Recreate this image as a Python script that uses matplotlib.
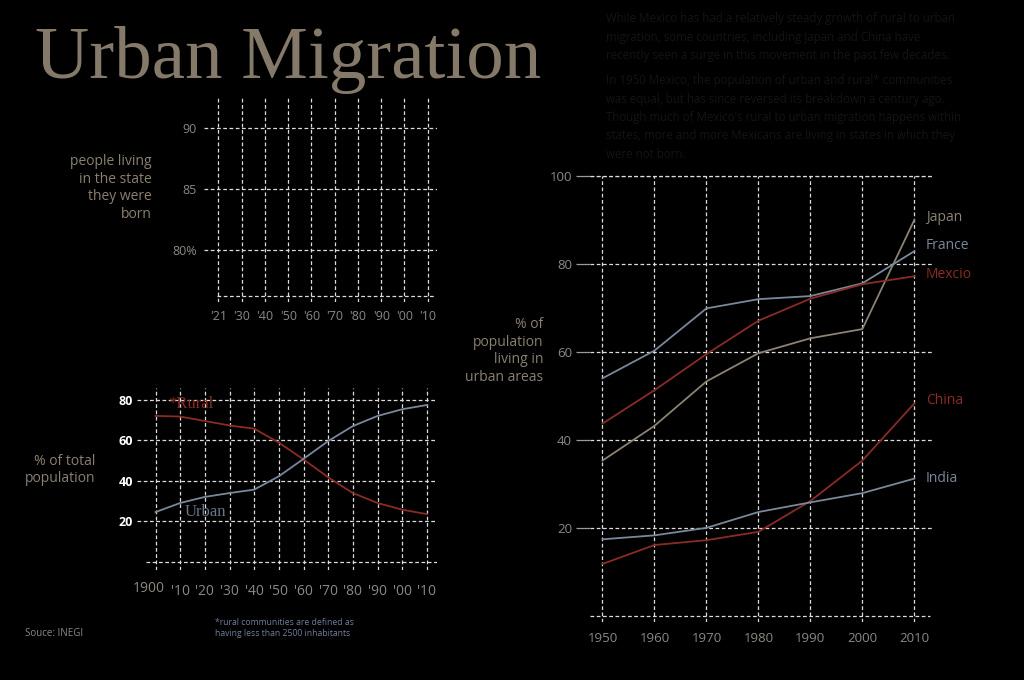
import matplotlib.pyplot as plt
import numpy as np

W, H = 1024, 680

# right chart: % urban population by country
decades = [1950, 1960, 1970, 1980, 1990, 2000, 2010]
japan = [35.3, 43.2, 53.3, 59.7, 63.1, 65.2, 90.0]
france = [54.0, 60.3, 69.9, 72.0, 72.7, 75.6, 82.9]
mexico = [43.7, 51.3, 59.5, 67.1, 72.1, 75.4, 77.2]
china = [11.8, 16.1, 17.2, 19.1, 26.1, 35.3, 48.3]
india = [17.4, 18.3, 20.0, 23.6, 25.8, 27.9, 31.2]

# bottom-left chart: Mexico rural vs urban
years = [1900, 1910, 1920, 1930, 1940, 1950, 1960, 1970, 1980, 1990, 2000, 2010]
rural = [72.0, 71.7, 69.5, 67.3, 65.7, 58.8, 50.5, 41.7, 33.9, 29.0, 25.7, 23.5]
urban = [24.5, 29.0, 32.0, 33.9, 35.6, 42.2, 50.8, 59.6, 67.0, 72.0, 75.3, 77.4]
year_labels = ["1900", "'10", "'20", "'30", "'40", "'50", "'60", "'70", "'80", "'90", "'00", "'10"]

# top-left chart: born-in-state (empty grid)
census_labels = ["'21", "'30", "'40", "'50", "'60", "'70", "'80", "'90", "'00", "'10"]

paragraph = ("While Mexico has had a relatively steady growth of rural to urban\n"
             "migration, some countries, including Japan and China have\n"
             "recently seen a surge in this movement in the past few decades.")
paragraph2 = ("In 1950 Mexico, the population of urban and rural* communities\n"
              "was equal, but has since reversed its breakdown a century ago.\n"
              "Though much of Mexico's rural to urban migration happens within\n"
              "states, more and more Mexicans are living in states in which they\n"
              "were not born.")

RED = "#8b2c24"
BLUE = "#7a889b"
TAN = "#8c8372"
LABEL = "#8a8070"
TICK = "#8d8882"
GRID = "#dcdcdc"
DASH = (0, (3, 2))

plt.rcParams['font.family'] = ['Open Sans', 'DejaVu Sans']

fig = plt.figure(figsize=(W / 100, H / 100), dpi=100, facecolor="black")


def box(l, t, r, b):
    return [l / W, 1 - b / H, (r - l) / W, (b - t) / H]


def style(ax):
    ax.set_facecolor("black")
    for s in ax.spines.values():
        s.set_visible(False)
    ax.grid(True, color=GRID, linestyle=DASH, linewidth=0.9)
    ax.tick_params(length=0, colors=TICK, labelsize=9)


# ---- title and text
fig.text(35 / W, 1 - 78 / H, "Urban Migration", family="Liberation Serif",
         fontsize=54, color="#857a69", va="baseline")
fig.text(606 / W, 1 - 12 / H, paragraph, fontsize=8.3, color="#141414",
         va="top", linespacing=1.55)
fig.text(606 / W, 1 - 74 / H, paragraph2, fontsize=8.3, color="#141414",
         va="top", linespacing=1.55)

# ---- top-left: born in state
ax1 = fig.add_axes(box(204, 97, 437, 302))
style(ax1)
ax1.set_xlim(-0.62, 9.4)
ax1.set_ylim(75.8, 92.5)
ax1.set_xticks(range(len(census_labels)))
ax1.set_xticklabels(census_labels)
ax1.set_yticks([80, 85, 90])
ax1.set_yticklabels(["80%", "85", "90"])
ax1.tick_params(axis="y", pad=5)
ax1.tick_params(axis="x", pad=6)
ax1.hlines(76.3, -0.05, 9.25, color=GRID, linestyle=DASH, linewidth=0.9)
fig.text(152 / W, 1 - 188 / H, "people living\nin the state\nthey were\nborn",
         ha="right", va="center", fontsize=10, color=LABEL, linespacing=1.25)

# ---- bottom-left: rural vs urban
ax2 = fig.add_axes(box(137, 388, 437, 570))
style(ax2)
ax2.set_xlim(1892.5, 2014.1)
ax2.set_ylim(-4.1, 85.8)
ax2.set_xticks(years)
ax2.set_xticklabels([""] + year_labels[1:], fontsize=10)
ax2.text(1897.3, -0.104, year_labels[0], transform=ax2.get_xaxis_transform(),
         ha="center", va="center", fontsize=10, color=TICK)
ax2.set_yticks([20, 40, 60, 80])
ax2.tick_params(axis="y", colors="white", labelsize=9, pad=3)
for t in ax2.get_yticklabels():
    t.set_fontweight("bold")
ax2.tick_params(axis="x", pad=10)
ax2.hlines(0, 1896, 2014.1, color=GRID, linestyle=DASH, linewidth=0.9)
ax2.plot(years, rural, color=RED, lw=1.3)
ax2.plot(years, urban, color=BLUE, lw=1.3)
ax2.text(1905, 78, "*Rural", family="Liberation Serif", fontsize=12, color=RED, va="center")
ax2.text(1912, 24.6, "Urban", family="Liberation Serif", fontsize=12, color="#6c7889", va="center")
fig.text(95 / W, 1 - 470 / H, "% of total\npopulation", ha="right", va="center",
         fontsize=10, color=LABEL, linespacing=1.25)

fig.text(25 / W, 1 - 633 / H, "Souce: INEGI", fontsize=7, color="#8a8a8a", va="center")
fig.text(215 / W, 1 - 628 / H, "*rural communities are defined as\nhaving less than 2500 inhabitants",
         fontsize=6.2, color="#6f7f9c", va="center", linespacing=1.35)

# ---- right: urban population by country
ax3 = fig.add_axes(box(590, 176, 932, 622))
style(ax3)
ax3.set_xlim(1947.6, 2013.4)
ax3.set_ylim(-1.4, 100)
ax3.set_xticks(decades)
ax3.set_yticks([20, 40, 60, 80, 100])
ax3.tick_params(axis="y", length=10, width=0.9, color="#9a9a9a", pad=3, labelsize=9.5)
ax3.tick_params(axis="x", pad=7, labelsize=9.5)
ax3.hlines(0, 1947.6, 2013.0, color=GRID, linestyle=DASH, linewidth=0.9)
ax3.hlines(100, 1947.6, 2013.4, color=GRID, linestyle=DASH, linewidth=0.9, clip_on=False)

series = [("Japan", japan, TAN, 90.6), ("France", france, BLUE, 84.3),
          ("Mexcio", mexico, RED, 77.5), ("China", china, RED, 48.9),
          ("India", india, BLUE, 31.2)]
for name, vals, col, ly in series:
    ax3.plot(decades, vals, color=col, lw=1.3)
    ax3.text(2012.2, ly, name, color=col, fontsize=10, va="center", clip_on=False)

fig.text(543 / W, 1 - 351 / H, "% of\npopulation\nliving in\nurban areas", ha="right",
         va="center", fontsize=10, color=LABEL, linespacing=1.25)

fig.savefig("out.png", dpi=100, facecolor="black")
